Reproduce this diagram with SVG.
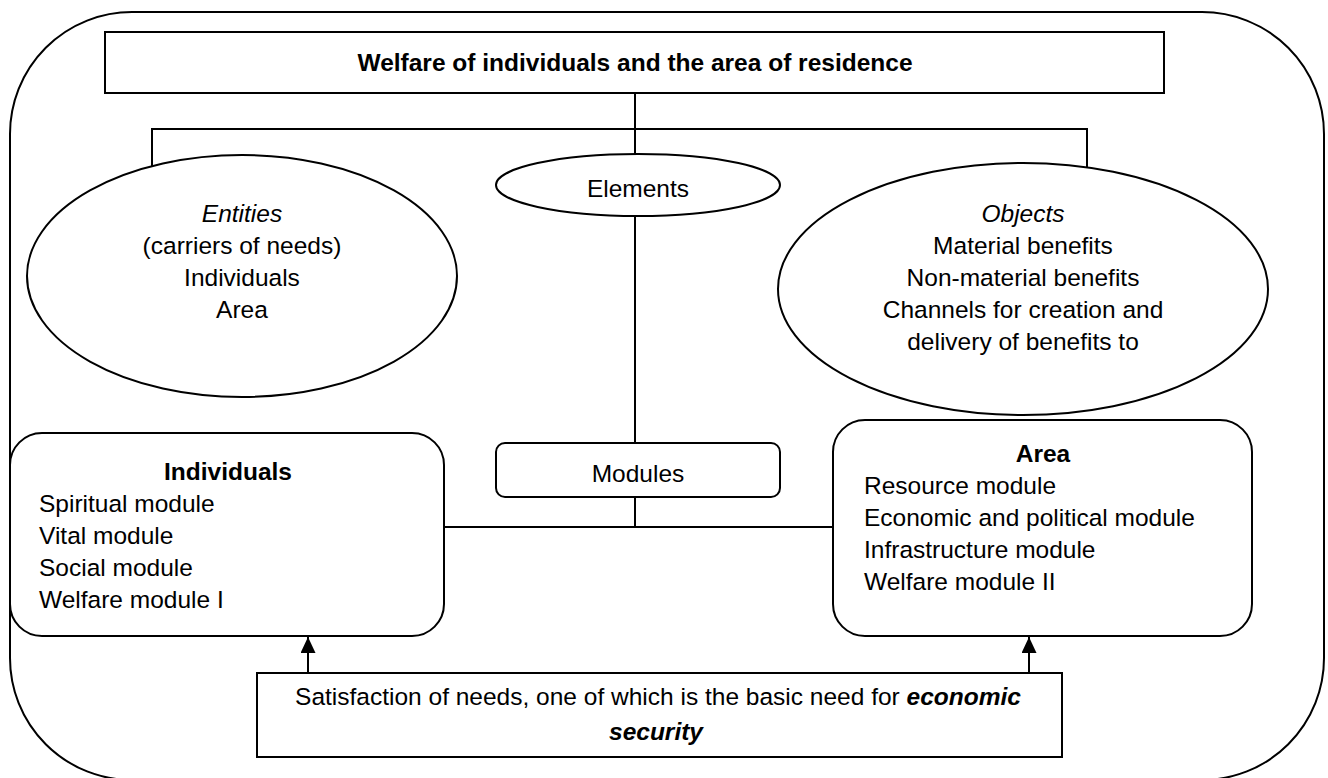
<svg xmlns="http://www.w3.org/2000/svg" width="1328" height="778" viewBox="0 0 1328 778">
<style>
  .shape{fill:#fff;stroke:#000;stroke-width:2}
  .frame{fill:none;stroke:#000;stroke-width:2}
  .conn{fill:none;stroke:#000;stroke-width:2}
  text{font-family:"Liberation Sans",Arial,sans-serif;font-size:24.5px;fill:#000}
  .c{text-anchor:middle}
  .b{font-weight:bold}
  .i{font-style:italic}
</style>
<defs>
  <marker id="arrow" viewBox="0 0 16 15" refX="16" refY="7.5" markerWidth="16" markerHeight="15" markerUnits="userSpaceOnUse" orient="auto">
    <path d="M0,0 L16,7.5 L0,15 Z" fill="#000"/>
  </marker>
</defs>
<rect width="1328" height="778" fill="#fff"/>
<g id="frame">
  <rect class="frame" x="10" y="12" width="1314" height="768" rx="122" ry="122"/>
</g>
<g id="connectors">
  <line class="conn" x1="635" y1="93" x2="635" y2="154"/>
  <polyline class="conn" points="152,166 152,129 1087,129 1087,167"/>
  <line class="conn" x1="635" y1="216" x2="635" y2="443"/>
  <line class="conn" x1="635" y1="497" x2="635" y2="527"/>
  <line class="conn" x1="444" y1="527" x2="833" y2="527"/>
  <line class="conn" x1="308" y1="673" x2="308" y2="637" marker-end="url(#arrow)"/>
  <line class="conn" x1="1029" y1="673" x2="1029" y2="637" marker-end="url(#arrow)"/>
</g>
<g id="title">
  <rect class="shape" x="105" y="32" width="1059" height="61"/>
  <text class="c b" x="635" y="71">Welfare of individuals and the area of residence</text>
</g>
<g id="entities">
  <ellipse class="shape" cx="242" cy="276" rx="215" ry="121"/>
  <text class="c i" x="242" y="222">Entities</text>
  <text class="c" x="242" y="254">(carriers of needs)</text>
  <text class="c" x="242" y="286">Individuals</text>
  <text class="c" x="242" y="318">Area</text>
</g>
<g id="elements">
  <ellipse class="shape" cx="638" cy="185" rx="142" ry="31"/>
  <text class="c" x="638" y="197">Elements</text>
</g>
<g id="objects">
  <ellipse class="shape" cx="1023" cy="289" rx="245" ry="126"/>
  <text class="c i" x="1023" y="222">Objects</text>
  <text class="c" x="1023" y="254">Material benefits</text>
  <text class="c" x="1023" y="286">Non-material benefits</text>
  <text class="c" x="1023" y="318">Channels for creation and</text>
  <text class="c" x="1023" y="350">delivery of benefits to</text>
</g>
<g id="modules">
  <rect class="shape" x="496" y="443" width="284" height="54" rx="9" ry="9"/>
  <text class="c" x="638" y="482">Modules</text>
</g>
<g id="individuals">
  <rect class="shape" x="10" y="433" width="434" height="203" rx="32" ry="32"/>
  <text class="c b" x="228" y="480">Individuals</text>
  <text x="39" y="512">Spiritual module</text>
  <text x="39" y="544">Vital module</text>
  <text x="39" y="576">Social module</text>
  <text x="39" y="608">Welfare module I</text>
</g>
<g id="area">
  <rect class="shape" x="833" y="420" width="419" height="216" rx="32" ry="32"/>
  <text class="c b" x="1043" y="462">Area</text>
  <text x="864" y="494">Resource module</text>
  <text x="864" y="526">Economic and political module</text>
  <text x="864" y="558">Infrastructure module</text>
  <text x="864" y="590">Welfare module II</text>
</g>
<g id="satisfaction">
  <rect class="shape" x="257" y="673" width="805" height="84"/>
  <text class="c" x="658" y="705">Satisfaction of needs, one of which is the basic need for <tspan class="b i">economic</tspan></text>
  <text class="c b i" x="656" y="740">security</text>
</g>
</svg>
